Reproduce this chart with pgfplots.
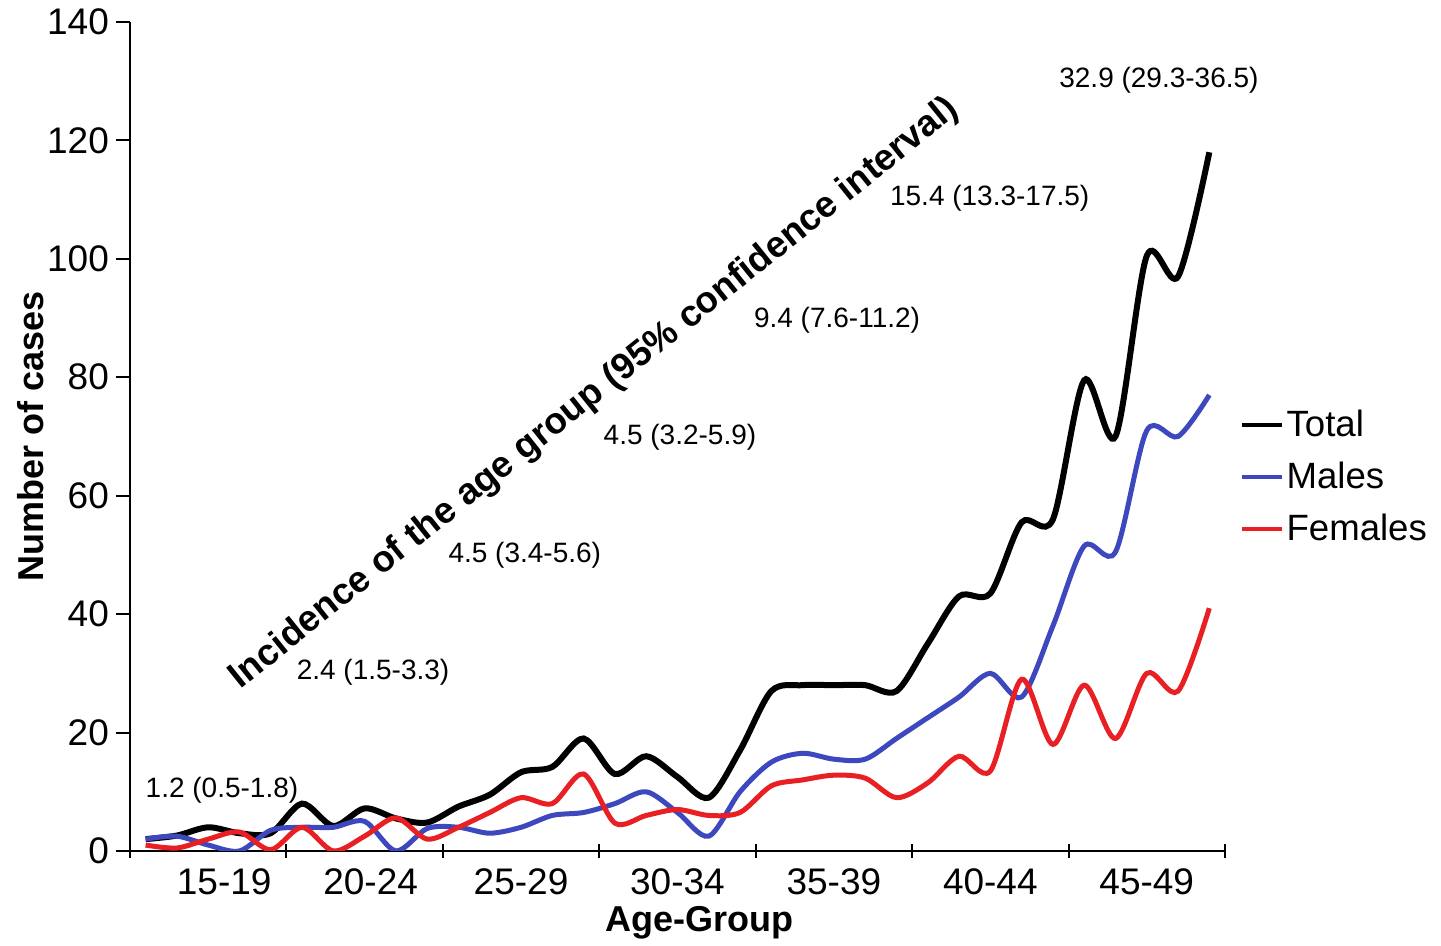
\documentclass[border=0pt]{standalone}
\usepackage{fontspec}
\setmainfont{Liberation Sans}
\usepackage{pgfplots}
\usepackage{pgfplotstable}
\pgfplotsset{compat=1.18}
\definecolor{mblue}{RGB}{62,72,190}
\definecolor{fred}{RGB}{232,32,36}

\pgfplotstableread{
age total males females
15 2    2    1
16 2.6  2.5  0.5
17 4    1    2
18 3    0    3.2
19 3    3.5  0.2
20 8    4    4
21 4.2  4    0
22 7.2  5    2.5
23 5.5  0    5.6
24 4.8  3.8  2
25 7.5  4    4
26 9.5  3    6.5
27 13.3 4    9
28 14.2 6    8
29 19   6.5  13
30 13   8    4.7
31 16   10   6
32 12.5 6.5  7
33 9    2.5  6
34 17   10   6.5
35 27   15   11
36 28   16.5 12
37 28   15.5 12.8
38 28   15.5 12.3
39 27   19   9
40 35   22.5 11.5
41 43   26   16
42 43.5 30   13.5
43 55.5 26   29
44 56   38   18
45 79.5 51.5 28
46 70   50.5 19
47 100.5 71  30
48 97   70   27
49 118  77   41
}\datatable

\begin{document}
\begin{tikzpicture}
\begin{axis}[
  scale only axis, width=547.5pt, height=414.5pt,
  xmin=14.5, xmax=49.5, ymin=0, ymax=140,
  axis lines*=left,
  axis line style={line width=1pt, black},
  xtick={14.5,19.5,24.5,29.5,34.5,39.5,44.5,49.5},
  xticklabels={\hspace*{16pt}15-19,\hspace*{6pt}20-24,25-29,30-34,35-39,40-44,45-49},
  x tick label as interval,
  ytick={0,20,...,140},
  xtick align=center,
  ytick align=outside,
  major tick length=7pt,
  tick style={line width=1pt, black},
  tick label style={font=\fontsize{18.5}{20}\selectfont},
  xticklabel style={yshift=-2pt},
  /pgf/number format/assume math mode=true,
  ylabel={Number of cases}, xlabel={Age-Group},
  label style={font=\bfseries\fontsize{18}{20}\selectfont},
  ylabel style={at={(axis description cs:-0.0904,0.5)}, anchor=center},
  xlabel style={at={(axis description cs:0.5205,-0.0865)}, anchor=center},
  legend style={at={(axis description cs:1.0135,0.451)}, anchor=west,
    draw=none, fill=none, inner sep=0pt,
    font=\fontsize{18.3}{20}\selectfont,
    nodes={inner sep=1pt}, row sep=9.3pt},
  legend cell align=left,
  legend image code/.code={\draw[#1, line width=2.2pt] (0pt,0pt) -- (20pt,0pt);},
  clip mode=individual,
]
\addplot[black, line width=3pt, smooth, tension=0.5] table[x=age, y=total] {\datatable};
\addlegendentry{Total}
\addplot[mblue, line width=2.5pt, smooth, tension=0.5] table[x=age, y=males] {\datatable};
\addlegendentry{Males}
\addplot[fred, line width=2.5pt, smooth, tension=0.5] table[x=age, y=females] {\datatable};
\addlegendentry{Females}

\begin{scope}[every node/.style={font=\fontsize{14}{16}\selectfont}]
\node at (axis cs:17.44,10.3) {1.2 (0.5-1.8)};
\node at (axis cs:22.27,30.1) {2.4 (1.5-3.3)};
\node at (axis cs:27.12,50.0) {4.5 (3.4-5.6)};
\node at (axis cs:32.08,69.9) {4.5 (3.2-5.9)};
\node at (axis cs:37.1,89.7) {9.4 (7.6-11.2)};
\node at (axis cs:41.98,110.3) {15.4 (13.3-17.5)};
\node at (axis cs:47.39,130.2) {32.9 (29.3-36.5)};
\end{scope}
\node[rotate=38.7, font=\bfseries\fontsize{18.4}{20}\selectfont] at (axis cs:29.35,77.2)
  {Incidence of the age group (95\% confidence interval)};

\coordinate (bbl) at (rel axis cs:-0.1187,-0.1122);
\coordinate (btr) at (rel axis cs:1.1973,1.0265);
\end{axis}
\path[use as bounding box] (bbl) rectangle (btr);
\end{tikzpicture}
\end{document}
